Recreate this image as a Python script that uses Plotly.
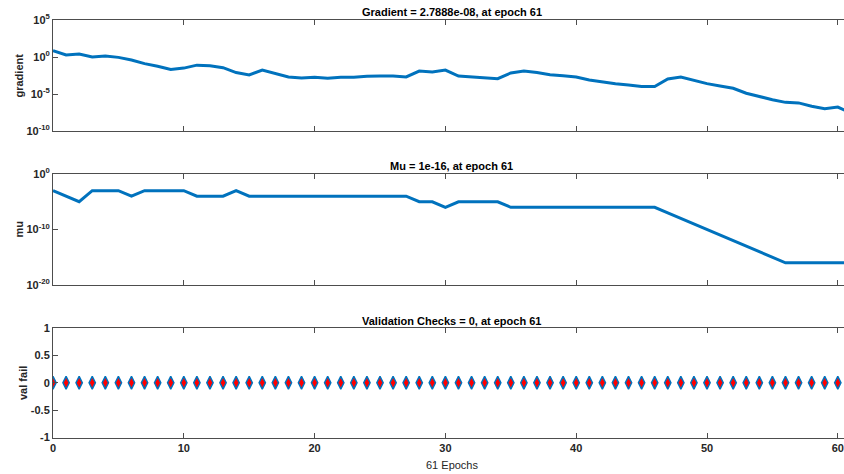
import plotly.graph_objects as go

epochs = list(range(0, 62))

grad_log10 = [0.85, 0.27, 0.40, 0.00, 0.14, -0.05, -0.40, -0.90, -1.26, -1.70,
              -1.50, -1.10, -1.17, -1.44, -2.10, -2.43, -1.76, -2.20, -2.70, -2.84,
              -2.75, -2.88, -2.75, -2.75, -2.60, -2.57, -2.57, -2.70, -1.90, -2.03,
              -1.76, -2.57, -2.70, -2.75, -2.93, -2.16, -1.90, -2.10, -2.39, -2.52,
              -2.70, -3.10, -3.38, -3.60, -3.78, -4.00, -4.00, -2.97, -2.70, -3.15,
              -3.60, -3.92, -4.23, -4.90, -5.36, -5.77, -6.13, -6.20, -6.66, -6.98,
              -6.76, -7.5546]
gradient = [10 ** v for v in grad_log10]

mu_exp = [-3, -4, -5, -3, -3, -3, -4, -3, -3, -3,
          -3, -4, -4, -4, -3, -4, -4, -4, -4, -4,
          -4, -4, -4, -4, -4, -4, -4, -4, -5, -5,
          -6, -5, -5, -5, -5, -6, -6, -6, -6, -6,
          -6, -6, -6, -6, -6, -6, -6, -7, -8, -9,
          -10, -11, -12, -13, -14, -15, -16, -16, -16, -16,
          -16, -16]
mu = [10.0 ** e for e in mu_exp]

val_fail = [0] * 62

titles = ["Gradient = 2.7888e-08, at epoch 61", "Mu = 1e-16, at epoch 61",
          "Validation Checks = 0, at epoch 61"]
ylabels = ["gradient", "mu", "val fail"]
xlabel = "61 Epochs"
xticks = [0, 10, 20, 30, 40, 50, 60]

BLUE = "#0072BD"
AX = "#4d4d4d"
FONT = "Liberation Sans, Arial, sans-serif"
W, H = 844, 474

def py(p):
    return 1 - p / H

fig = go.Figure()
fig.add_trace(go.Scatter(x=epochs, y=gradient, mode="lines", line=dict(color=BLUE, width=3),
                         xaxis="x", yaxis="y", showlegend=False))
fig.add_trace(go.Scatter(x=epochs, y=mu, mode="lines", line=dict(color=BLUE, width=3),
                         xaxis="x2", yaxis="y2", showlegend=False))
fig.add_trace(go.Scatter(x=epochs, y=val_fail, mode="markers",
                         marker=dict(symbol="diamond-tall", size=9, color="#FF0000",
                                     line=dict(color=BLUE, width=1.5)),
                         xaxis="x3", yaxis="y3", showlegend=False))

x0px = 53.0
pxunit = 13.08
xmax = (W - x0px) / pxunit
xdom = [x0px / W, 1.0]

tickfont = dict(family=FONT, size=11, color="#262626")
common_x = dict(range=[0, xmax], domain=xdom, showline=True, linecolor=AX, linewidth=1,
                mirror="allticks", ticks="inside", ticklen=5, tickcolor=AX,
                tickvals=xticks, showgrid=False, zeroline=False,
                tickfont=tickfont, automargin=False)
common_y = dict(showline=True, linecolor=AX, linewidth=1, ticks="inside", ticklen=5,
                tickcolor=AX, showgrid=False, zeroline=False, tickfont=tickfont,
                automargin=False)

layout = dict(width=W, height=H, margin=dict(l=0, r=0, t=0, b=0, autoexpand=False),
              paper_bgcolor="white", plot_bgcolor="white", font=dict(family=FONT))
layout["xaxis"] = dict(common_x, anchor="y", showticklabels=False)
layout["xaxis2"] = dict(common_x, anchor="y2", showticklabels=False)
layout["xaxis3"] = dict(common_x, anchor="y3", showticklabels=True,
                        ticktext=["<b>%d</b>" % v for v in xticks])
layout["yaxis"] = dict(common_y, type="log", range=[-10, 5], domain=[py(131), py(20)], anchor="x",
                       tickvals=[1e5, 1, 1e-5, 1e-10],
                       ticktext=["<b>10<sup>5</sup></b>", "<b>10<sup>0</sup></b>",
                                 "<b>10<sup>-5</sup></b>", "<b>10<sup>-10</sup></b>"])
layout["yaxis2"] = dict(common_y, type="log", range=[-20, 0], domain=[py(285), py(174)], anchor="x2",
                        tickvals=[1, 1e-10, 1e-20],
                        ticktext=["<b>10<sup>0</sup></b>", "<b>10<sup>-10</sup></b>",
                                  "<b>10<sup>-20</sup></b>"])
layout["yaxis3"] = dict(common_y, range=[-1, 1], domain=[py(437.5), py(328)], anchor="x3",
                        tickvals=[-1, -0.5, 0, 0.5, 1],
                        ticktext=["<b>-1</b>", "<b>-0.5</b>", "<b>0</b>", "<b>0.5</b>", "<b>1</b>"])
fig.update_layout(**layout)

cx = (x0px + 30.5 * pxunit) / W
anns = []
for t, ypx in zip(titles, [12.5, 165.5, 320.5]):
    anns.append(dict(text="<b>%s</b>" % t, x=cx, y=py(ypx), xref="paper", yref="paper",
                     showarrow=False, xanchor="center", yanchor="middle",
                     font=dict(family=FONT, size=11, color="black")))
for t, xp, ypx in zip(ylabels, [18, 18, 23], [75.5, 229.5, 383]):
    anns.append(dict(text="<b>%s</b>" % t, x=xp / W, y=py(ypx), xref="paper", yref="paper",
                     showarrow=False, textangle=-90, xanchor="center", yanchor="middle",
                     font=dict(family=FONT, size=11, color="#262626")))
anns.append(dict(text=xlabel, x=cx, y=py(465), xref="paper", yref="paper", showarrow=False,
                 xanchor="center", yanchor="middle",
                 font=dict(family=FONT, size=11, color="#262626")))
fig.update_layout(annotations=anns)

fig.write_html("out.html", config={"displayModeBar": False},
               post_script="document.body.style.margin='0';document.body.style.overflow='hidden';")
